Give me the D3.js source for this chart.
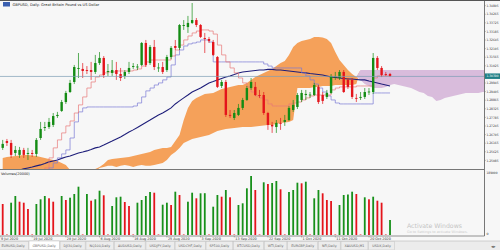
<!DOCTYPE html>
<html>
<head>
<meta charset="utf-8">
<script src="https://cdn.jsdelivr.net/npm/d3@7"></script>
<style>
  body { margin: 0; background: #f7f7f7; }
  text { font-family: "DejaVu Sans", sans-serif; }
</style>
</head>
<body>
<svg id="chart" width="500" height="250"></svg>
<script>
// daily GBPUSD bars, 10 Jul 2020 .. 26 Oct 2020 (Sunday bars included)
const open = [1.2587,1.2630,1.2618,1.2555,1.2543,1.2574,1.2549,1.2555,1.2549,1.2649,
  1.2712,1.2718,1.2731,1.2787,1.2819,1.2875,1.2938,1.3001,1.3083,1.3083,
  1.3076,1.3076,1.3064,1.3120,1.3152,1.3064,1.3058,1.3076,1.3051,1.3039,
  1.3064,1.3098,1.3095,1.3108,1.3246,1.3120,1.3221,1.3089,1.3095,1.3076,
  1.3158,1.3227,1.3215,1.3353,1.3346,1.3372,1.3390,1.3359,1.3277,1.3271,
  1.3252,1.3158,1.2976,1.3001,1.2794,1.2775,1.2794,1.2838,1.2888,1.2963,
  1.2970,1.2919,1.2919,1.2806,1.2731,1.2718,1.2744,1.2750,1.2762,1.2825,
  1.2844,1.2888,1.2919,1.2919,1.2919,1.2970,1.2919,1.2907,1.2932,1.3032,
  1.3026,1.3064,1.3014,1.3014,1.2901,1.2901,1.2907,1.2938,1.2938,1.3152,
  1.3089,1.3051,1.3051];
const high = [1.2637,1.2643,1.2637,1.2599,1.2593,1.2587,1.2587,1.2574,1.2649,1.2750,
  1.2750,1.2775,1.2806,1.2813,1.2888,1.2945,1.3014,1.3108,1.3183,1.3120,
  1.3101,1.3127,1.3171,1.3189,1.3164,1.3114,1.3139,1.3127,1.3089,1.3076,
  1.3127,1.3120,1.3114,1.3252,1.3265,1.3233,1.3265,1.3120,1.3127,1.3171,
  1.3227,1.3265,1.3365,1.3390,1.3416,1.3497,1.3403,1.3365,1.3309,1.3284,
  1.3265,1.3164,1.3014,1.3014,1.2825,1.2825,1.2863,1.2901,1.2976,1.3026,
  1.3001,1.2951,1.2938,1.2813,1.2750,1.2762,1.2775,1.2794,1.2850,1.2888,
  1.2932,1.2951,1.2951,1.2938,1.2995,1.2982,1.2938,1.2951,1.3051,1.3064,
  1.3076,1.3076,1.3026,1.3026,1.2926,1.2938,1.2963,1.2963,1.3183,1.3164,
  1.3101,1.3064,1.3058];
const low = [1.2574,1.2599,1.2524,1.2536,1.2524,1.2524,1.2511,1.2530,1.2530,1.2637,
  1.2693,1.2706,1.2718,1.2775,1.2813,1.2863,1.2932,1.2988,1.3026,1.3026,
  1.3051,1.3014,1.3051,1.3108,1.3026,1.3039,1.3039,1.3014,1.3007,1.3020,
  1.3051,1.3083,1.3076,1.3101,1.3095,1.3108,1.3076,1.3064,1.3051,1.3064,
  1.3145,1.3202,1.3202,1.3328,1.3309,1.3365,1.3346,1.3277,1.3183,1.3246,
  1.3164,1.2963,1.2963,1.2781,1.2775,1.2762,1.2787,1.2825,1.2882,1.2951,
  1.2913,1.2901,1.2794,1.2700,1.2681,1.2681,1.2700,1.2725,1.2756,1.2813,
  1.2831,1.2875,1.2888,1.2901,1.2913,1.2863,1.2863,1.2894,1.2926,1.3014,
  1.3014,1.2932,1.2957,1.2894,1.2875,1.2888,1.2894,1.2919,1.2926,1.3076,
  1.3032,1.3039,1.3032];
const close = [1.2612,1.2618,1.2543,1.2574,1.2574,1.2543,1.2555,1.2549,1.2637,1.2706,
  1.2718,1.2750,1.2787,1.2794,1.2875,1.2932,1.2995,1.3095,1.3089,1.3070,
  1.3073,1.3064,1.3120,1.3152,1.3045,1.3070,1.3076,1.3051,1.3026,1.3064,
  1.3089,1.3101,1.3098,1.3246,1.3108,1.3221,1.3095,1.3092,1.3064,1.3158,
  1.3215,1.3215,1.3359,1.3359,1.3372,1.3390,1.3359,1.3284,1.3274,1.3259,
  1.3171,1.2970,1.3001,1.2794,1.2791,1.2806,1.2838,1.2888,1.2963,1.3001,
  1.2919,1.2916,1.2806,1.2731,1.2722,1.2744,1.2741,1.2762,1.2838,1.2857,
  1.2919,1.2932,1.2926,1.2922,1.2982,1.2875,1.2882,1.2932,1.3039,1.3036,
  1.3064,1.2938,1.2970,1.2907,1.2897,1.2907,1.2938,1.2941,1.3152,1.3089,
  1.3045,1.3048,1.3039];
const volume = [93000,1500,96900,117000,99900,96900,78000,1500,93000,107100,
  117000,110100,99900,1500,117000,105000,111900,123000,144900,1500,
  123000,102900,107100,132900,119100,1500,87000,113100,114900,99000,
  87000,1500,96900,105000,117000,129000,126900,1500,90900,96900,
  90000,129900,120000,1500,99900,126900,110100,125100,125400,1500,
  84900,120000,114900,135000,113100,1500,90000,95100,140100,177000,
  135000,1500,158100,153000,156000,162000,137100,1500,129000,135000,
  156900,155100,159900,1500,110100,135000,125100,105000,102000,1500,
  90000,120000,121500,129900,123000,1500,113100,107100,114900,102900,
  96900,1500,45000];

// indicator lines, one value per bar
const tenkan = [1.2398,1.2398,1.2398,1.2398,1.2398,1.2398,1.2398,1.2398,1.2398,1.2398,
  1.2461,1.2524,1.2587,1.2637,1.2681,1.2725,1.2756,1.2806,1.2857,1.2907,
  1.2963,1.3001,1.3032,1.3045,1.3058,1.3064,1.3064,1.3070,1.3070,1.3070,
  1.3070,1.3076,1.3083,1.3101,1.3127,1.3139,1.3139,1.3139,1.3139,1.3139,
  1.3164,1.3202,1.3233,1.3265,1.3290,1.3309,1.3321,1.3328,1.3328,1.3321,
  1.3302,1.3233,1.3171,1.3127,1.3089,1.3058,1.3026,1.2995,1.2970,1.2938,
  1.2913,1.2901,1.2888,1.2863,1.2850,1.2850,1.2850,1.2850,1.2863,1.2869,
  1.2875,1.2888,1.2901,1.2913,1.2919,1.2919,1.2919,1.2919,1.2951,1.2963,
  1.2970,1.2970,1.2970,1.2970,1.2976,1.2976,1.2976,1.2976,1.3026,1.3039,
  1.3039,1.3039,1.3039];
const kijun = [1.2398,1.2398,1.2398,1.2398,1.2398,1.2398,1.2398,1.2398,1.2398,1.2398,
  1.2398,1.2461,1.2492,1.2524,1.2549,1.2574,1.2649,1.2750,1.2813,1.2838,
  1.2844,1.2844,1.2844,1.2844,1.2844,1.2844,1.2844,1.2844,1.2844,1.2844,
  1.2844,1.2850,1.2869,1.2907,1.2945,1.2963,1.2982,1.2995,1.3014,1.3032,
  1.3108,1.3171,1.3202,1.3227,1.3240,1.3246,1.3252,1.3265,1.3265,1.3252,
  1.3127,1.3127,1.3127,1.3127,1.3127,1.3127,1.3127,1.3127,1.3127,1.3127,
  1.3127,1.3127,1.3114,1.3101,1.3089,1.3089,1.3089,1.3089,1.3089,1.3089,
  1.3089,1.3058,1.3039,1.3014,1.2988,1.2963,1.2938,1.2913,1.2888,1.2869,
  1.2863,1.2863,1.2863,1.2863,1.2863,1.2863,1.2863,1.2863,1.2932,1.2932,
  1.2932,1.2932,1.2932];
const ma = [1.2398,1.2411,1.2423,1.2436,1.2448,1.2455,1.2461,1.2467,1.2474,1.2480,
  1.2489,1.2499,1.2505,1.2511,1.2521,1.2530,1.2536,1.2546,1.2555,1.2561,
  1.2568,1.2577,1.2587,1.2593,1.2605,1.2618,1.2630,1.2643,1.2656,1.2671,
  1.2687,1.2700,1.2715,1.2731,1.2747,1.2762,1.2778,1.2794,1.2806,1.2822,
  1.2838,1.2863,1.2882,1.2901,1.2919,1.2938,1.2951,1.2963,1.2979,1.2995,
  1.3004,1.3014,1.3023,1.3032,1.3039,1.3048,1.3058,1.3064,1.3067,1.3070,
  1.3073,1.3076,1.3076,1.3080,1.3080,1.3076,1.3076,1.3073,1.3070,1.3067,
  1.3064,1.3061,1.3058,1.3054,1.3051,1.3048,1.3045,1.3039,1.3032,1.3029,
  1.3026,1.3023,1.3020,1.3020,1.3017,1.3014,1.3014,1.3007,1.3001,1.2995,
  1.2988,1.2982,1.2976];
// cloud spans, shifted 26 bars forward (bars 0..115)
const spanA = [1.2524,1.2530,1.2533,1.2536,1.2539,1.2543,1.2543,1.2539,1.2536,1.2530,
  1.2524,1.2517,1.2511,1.2505,1.2492,1.2480,1.2448,1.2423,1.2411,1.2411,
  1.2417,1.2436,1.2455,1.2467,1.2486,1.2511,1.2517,1.2521,1.2524,1.2527,
  1.2530,1.2536,1.2543,1.2549,1.2555,1.2561,1.2574,1.2580,1.2587,1.2587,
  1.2593,1.2630,1.2668,1.2762,1.2838,1.2882,1.2901,1.2913,1.2926,1.2929,
  1.2932,1.2945,1.2957,1.2963,1.2970,1.2976,1.2982,1.2982,1.2995,1.3014,
  1.3032,1.3045,1.3058,1.3070,1.3083,1.3101,1.3120,1.3133,1.3171,1.3221,
  1.3246,1.3259,1.3265,1.3271,1.3284,1.3284,1.3281,1.3271,1.3246,1.3189,
  1.3139,1.3108,1.3076,1.3051,1.3032,1.3014,1.2988,1.2976,1.2963,1.2963,
  1.2963,1.2970,1.2982,1.2988,1.2982,1.2976,1.2970,1.2963,1.2951,1.2938,
  1.2932,1.2913,1.2907,1.2882,1.2888,1.2901,1.2907,1.2913,1.2919,1.2926,
  1.2932,1.2932,1.2932,1.2932,1.2938,1.2938];
const spanB = [1.2398,1.2398,1.2398,1.2398,1.2398,1.2398,1.2398,1.2398,1.2398,1.2398,
  1.2398,1.2398,1.2398,1.2398,1.2398,1.2398,1.2398,1.2398,1.2398,1.2398,
  1.2398,1.2398,1.2436,1.2461,1.2467,1.2474,1.2474,1.2467,1.2474,1.2480,
  1.2474,1.2467,1.2474,1.2480,1.2474,1.2474,1.2480,1.2486,1.2492,1.2511,
  1.2543,1.2561,1.2587,1.2618,1.2630,1.2643,1.2649,1.2656,1.2662,1.2668,
  1.2681,1.2693,1.2700,1.2706,1.2709,1.2712,1.2715,1.2718,1.2718,1.2718,
  1.2722,1.2725,1.2728,1.2731,1.2731,1.2737,1.2744,1.2747,1.2750,1.2762,
  1.2963,1.2963,1.2963,1.2963,1.2970,1.2970,1.2976,1.2976,1.2976,1.2982,
  1.2982,1.2982,1.2982,1.2982,1.2988,1.3076,1.3076,1.3076,1.3076,1.3076,
  1.3076,1.3076,1.3076,1.3076,1.3076,1.3076,1.3076,1.3076,1.3076,1.3076,
  1.3076,1.3076,1.3076,1.3076,1.3076,1.3076,1.3076,1.3076,1.3076,1.3076,
  1.3076,1.3076,1.3076,1.3076,1.3076,1.3076];

const priceTicks = ['1.34805','1.34265','1.33725','1.33185','1.32645','1.32105','1.31565','1.31025',
  '1.30485','1.29945','1.29405','1.28865','1.28325','1.27785','1.27245','1.26705','1.26165','1.25625','1.25085'];
const dateBars = [-1, 7, 15, 23, 31, 39, 47, 55, 63, 71, 79, 87];
const dateLabels = ['9 Jul 2020','19 Jul 2020','28 Jul 2020','6 Aug 2020','16 Aug 2020','25 Aug 2020',
  '3 Sep 2020','13 Sep 2020','22 Sep 2020','1 Oct 2020','11 Oct 2020','20 Oct 2020'];
const tabs = ['EURUSD,Daily','GBPUSD,Daily','DJI30,Daily','NQ100,Daily','AUDUSD,Daily','USDJPY,Daily',
  'USDCHF,Daily','SP500,Daily','BTCUSD,Daily','WTI,Daily','EURGBP,Daily','NFI,Daily','XAUUSD,M1','USDX,Daily'];
const volMaxLabel = '189000';

const svg = d3.select('#chart');
const W = 500, H = 250;
const plotRight = 484;
const mainBottom = 169;
const volTop = 170, volBottom = 235;

const x = d3.scaleLinear().domain([0, 115]).range([2.7, 2.7 + 4.21 * 115]);
const y = d3.scaleLinear().domain([1.2448, 1.3516]).range([170, 0]);
const vy = d3.scaleLinear().domain([0, 189000]).range([volBottom, 172]);

const GREEN = '#148c14', RED = '#e4141b';

svg.append('rect').attr('width', W).attr('height', H).attr('fill', '#f7f7f7');

const defs = svg.append('defs');
defs.append('clipPath').attr('id', 'clipMain').append('rect')
  .attr('x', 0).attr('y', 0).attr('width', plotRight).attr('height', mainBottom);
defs.append('clipPath').attr('id', 'clipVol').append('rect')
  .attr('x', 0).attr('y', volTop).attr('width', plotRight).attr('height', volBottom - volTop);

const main = svg.append('g').attr('clip-path', 'url(#clipMain)');

// Ichimoku cloud
const cloudIdx = d3.range(spanA.length);
main.append('path')
  .datum(cloudIdx)
  .attr('fill', '#f5a15a')
  .attr('d', d3.area().x(i => x(i))
    .y0(i => y(spanB[i])).y1(i => y(Math.max(spanA[i], spanB[i]))));
main.append('path')
  .datum(cloudIdx)
  .attr('fill', '#d9bcdc')
  .attr('d', d3.area().x(i => x(i))
    .y0(i => y(spanA[i])).y1(i => y(Math.max(spanA[i], spanB[i]))));

// moving average
main.append('path')
  .datum(d3.range(ma.length))
  .attr('fill', 'none').attr('stroke', '#1e1e7a').attr('stroke-width', 1.1)
  .attr('d', d3.line().x(i => x(i)).y(i => y(ma[i])));

// kijun / tenkan
main.append('path')
  .datum(d3.range(kijun.length))
  .attr('fill', 'none').attr('stroke', '#7a7ad6').attr('stroke-width', 0.7)
  .attr('d', d3.line().curve(d3.curveStepAfter).x(i => x(i)).y(i => y(kijun[i])));
main.append('path')
  .datum(d3.range(tenkan.length))
  .attr('fill', 'none').attr('stroke', '#e87878').attr('stroke-width', 0.7)
  .attr('d', d3.line().curve(d3.curveStepAfter).x(i => x(i)).y(i => y(tenkan[i])));

// candles
const bars = d3.range(open.length);
const colorOf = i => close[i] >= open[i] ? GREEN : RED;
main.selectAll('.wick').data(bars).enter().append('line')
  .attr('class', 'wick')
  .attr('x1', i => x(i)).attr('x2', i => x(i))
  .attr('y1', i => y(high[i])).attr('y2', i => y(low[i]))
  .attr('stroke', colorOf).attr('stroke-width', 0.7);
main.selectAll('.body').data(bars).enter().append('rect')
  .attr('class', 'body')
  .attr('x', i => x(i) - 1.2).attr('width', 2.4)
  .attr('y', i => y(Math.max(open[i], close[i])))
  .attr('height', i => Math.max(0.9, Math.abs(y(open[i]) - y(close[i]))))
  .attr('fill', colorOf);

// current price line
const last = close[close.length - 1];
svg.append('line')
  .attr('x1', 0).attr('x2', plotRight).attr('y1', y(last) + 0.5).attr('y2', y(last) + 0.5)
  .attr('stroke', '#7d9db4').attr('stroke-width', 0.7);

// panel frames
svg.append('line').attr('x1', 0).attr('x2', plotRight).attr('y1', mainBottom + 0.5).attr('y2', mainBottom + 0.5)
  .attr('stroke', '#777').attr('stroke-width', 1);
svg.append('line').attr('x1', 0).attr('x2', plotRight + 0.5).attr('y1', volBottom + 1).attr('y2', volBottom + 1)
  .attr('stroke', '#777').attr('stroke-width', 0.8);
svg.append('line').attr('x1', plotRight + 0.5).attr('x2', plotRight + 0.5).attr('y1', 0).attr('y2', volBottom + 1)
  .attr('stroke', '#777').attr('stroke-width', 1);
svg.append('line').attr('x1', 0).attr('x2', W).attr('y1', 0.5).attr('y2', 0.5)
  .attr('stroke', '#555').attr('stroke-width', 1);

// price axis
const axisG = svg.append('g');
const axisText = (yy, txt, fill) => axisG.append('text')
  .attr('x', plotRight + 2.5).attr('y', yy + 1.2)
  .attr('font-size', 3.2).attr('fill', fill)
  .attr('textLength', 12).attr('lengthAdjust', 'spacingAndGlyphs')
  .text(txt);
priceTicks.forEach(t => {
  const yy = y(+t);
  if (Math.abs(yy - y(last)) < 5) return;
  axisG.append('line').attr('x1', plotRight).attr('x2', plotRight + 1.8).attr('y1', yy).attr('y2', yy)
    .attr('stroke', '#777').attr('stroke-width', 0.5);
  axisText(yy, t, '#333');
});
axisG.append('rect').attr('x', plotRight + 1).attr('y', y(last) - 2.5).attr('width', W - plotRight - 1).attr('height', 5.5)
  .attr('fill', '#1f7f86');
axisText(y(last) + 0.3, last.toFixed(5), '#fff');

// title
svg.append('rect').attr('x', 3).attr('y', 2).attr('width', 7).attr('height', 4.5).attr('fill', '#3a5fb0');
svg.append('text').attr('x', 12.5).attr('y', 5.8).attr('font-size', 3.6).attr('fill', '#222')
  .text('GBPUSD, Daily:  Great Britain Pound vs US Dollar');

// volumes
const vol = svg.append('g').attr('clip-path', 'url(#clipVol)');
vol.selectAll('rect').data(bars).enter().append('rect')
  .attr('x', i => x(i) - 0.9).attr('width', 1.8)
  .attr('y', i => vy(volume[i]))
  .attr('height', i => volBottom - vy(volume[i]))
  .attr('fill', i => (i > 0 && volume[i] > volume[i - 1]) ? '#17901a' : '#e4141b');
svg.append('text').attr('x', 1).attr('y', 174.5).attr('font-size', 3.5).attr('fill', '#222')
  .text('Volumes(20000)');
svg.append('text').attr('x', plotRight + 2.5).attr('y', 174).attr('font-size', 3.2).attr('fill', '#333')
  .attr('textLength', 11).attr('lengthAdjust', 'spacingAndGlyphs')
  .text(volMaxLabel);
svg.append('text').attr('x', plotRight + 2.5).attr('y', volBottom).attr('font-size', 3.2).attr('fill', '#333')
  .text('0');

// date axis
dateBars.forEach((b, k) => {
  const xx = Math.max(0, x(b));
  svg.append('line').attr('x1', xx).attr('x2', xx).attr('y1', volBottom + 1).attr('y2', volBottom + 2.5)
    .attr('stroke', '#777').attr('stroke-width', 0.5);
  svg.append('text').attr('x', xx + 1).attr('y', volBottom + 4.8).attr('font-size', 3.4).attr('fill', '#333')
    .text(dateLabels[k]);
});

// watermark
svg.append('text').attr('x', 407).attr('y', 227.5).attr('font-size', 6.2).attr('fill', '#c4c4c4')
  .text('Activate Windows');
svg.append('text').attr('x', 407).attr('y', 233).attr('font-size', 3.4).attr('fill', '#cbcbcb')
  .text('Go to Settings to activate Windows.');

// tab strip
const tabG = svg.append('g');
tabG.append('rect').attr('x', 0).attr('y', 241).attr('width', W).attr('height', 9).attr('fill', '#ececec');
tabG.append('line').attr('x1', 0).attr('x2', W).attr('y1', 241).attr('y2', 241).attr('stroke', '#bbb').attr('stroke-width', 0.6);
let tx = -2;
tabs.forEach((name, k) => {
  const t = tabG.append('text').attr('y', 246.8).attr('font-size', 3.3).attr('fill', '#666').text(name);
  const w = t.node().getComputedTextLength() + 7;
  const active = k === 1;
  tabG.insert('rect', 'text').attr('x', tx).attr('y', active ? 241 : 241.5).attr('width', w).attr('height', 8.5)
    .attr('fill', active ? '#ffffff' : '#ececec').attr('stroke', '#c2c2c2').attr('stroke-width', 0.5);
  t.attr('x', tx + 3.5);
  tx += w + 0.8;
});
tabG.append('text').attr('x', 491).attr('y', 247.5).attr('font-size', 4.5).attr('fill', '#666').text('\u25C2\u25B8');
</script>
</body>
</html>
